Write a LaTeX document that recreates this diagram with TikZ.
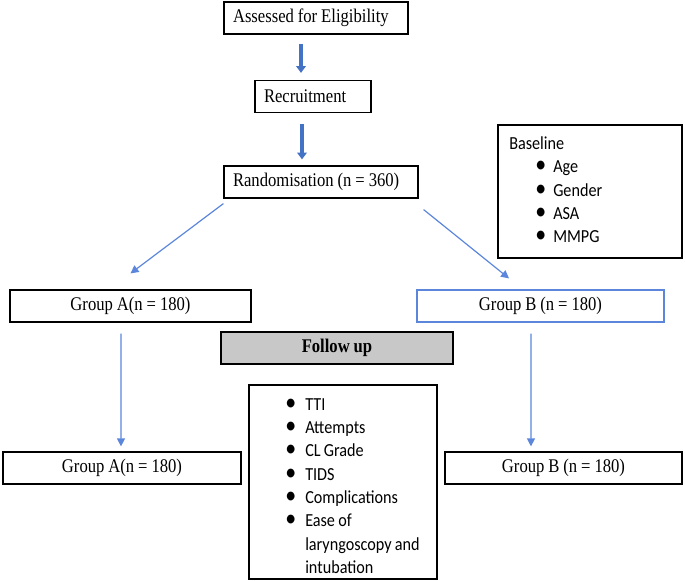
\documentclass[tikz,border=0pt]{standalone}
\usepackage{fontspec}
\setmainfont{Liberation Serif}[FakeStretch=0.86, WordSpace=0.95]
\newfontfamily\calibri{Carlito}[FakeStretch=0.88, WordSpace=0.88]
\usetikzlibrary{arrows.meta}
\definecolor{arrowblue}{HTML}{4472C4}
\definecolor{lineblue}{HTML}{5B86DB}
\definecolor{followgray}{HTML}{C8C8C8}
\newcommand{\listdot}[2][13.5pt]{\makebox[#1][l]{\scalebox{1.35}{\textbullet}}#2}

\begin{document}
\begin{tikzpicture}[x=0.75pt, y=-0.75pt,
    box/.style={draw, line width=0.9pt, minimum height=24pt, inner sep=0pt, font=\fontsize{14.5}{16}\selectfont},
    leftbox/.style={box, inner xsep=6.75pt},
    listtext/.style={anchor=west, align=left, inner sep=0pt, font=\calibri\fontsize{13.8}{17.5}\selectfont},
    bigarrow/.style={-{Triangle[length=5pt,width=7pt]}, arrowblue, line width=2.4pt},
    thinarrow/.style={-{Triangle[length=6pt,width=6pt]}, lineblue, line width=0.9pt}]
    \useasboundingbox (0,0) rectangle (685,581);

    %top boxes
    \node[leftbox] (assess) at (316,18) {\makebox[124.5pt][l]{Assessed for Eligibility}};
    \node[leftbox] (recruit) at (313,96.5) {\makebox[73.5pt][l]{Recruitment}};
    \node[leftbox] (random) at (321,182) {\makebox[132pt][l]{Randomisation (n = 360)}};

    %baseline list
    \node[box, minimum width=138pt, minimum height=99.75pt] (baseline) at (590,191.5) {};
    \node[listtext] (baselinelist) at (509,190) {Baseline\\
        \hspace*{19.5pt}\listdot{Age}\\
        \hspace*{19.5pt}\listdot{Gender}\\
        \hspace*{19.5pt}\listdot{ASA}\\
        \hspace*{19.5pt}\listdot{MMPG}};

    %groups
    \node[box, minimum width=180.75pt] (groupA) at (130.5,306) {Group A(n = 180)};
    \node[box, draw=lineblue, minimum width=185.25pt] (groupB) at (540.5,306) {Group B (n = 180)};
    \node[box, fill=followgray, minimum width=174pt, font=\bfseries\fontsize{14.5}{16}\selectfont] (follow) at (337,348) {Follow up};
    \node[box, minimum width=178.5pt] (groupAend) at (122,468) {Group A(n = 180)};
    \node[box, minimum width=177.75pt] (groupBend) at (563.5,468) {Group B (n = 180)};

    %outcome list
    \node[box, minimum width=141pt, minimum height=145.5pt] (outcome) at (343,482) {};
    \node[listtext] (outcomelist) at (285,486) {\listdot[15pt]{TTI}\\
        \listdot[15pt]{Attempts}\\
        \listdot[15pt]{CL Grade}\\
        \listdot[15pt]{TIDS}\\
        \listdot[15pt]{Complications}\\
        \listdot[15pt]{Ease of}\\
        \hspace*{15pt}laryngoscopy and\\
        \hspace*{15pt}intubation};

    %arrows
    \draw[bigarrow, shorten <=6.75pt, shorten >=5.25pt] ([xshift=-11.25pt]assess.south) -- ([xshift=-9pt]recruit.north);
    \draw[bigarrow, shorten <=8.25pt, shorten >=4.5pt] ([xshift=-8.25pt]recruit.south) -- ([xshift=-14.25pt]random.north);
    \draw[thinarrow] ([yshift=-3.75pt]random.south west) -- ([yshift=12pt]groupA.north);
    \draw[thinarrow] ([xshift=3.75pt,yshift=-8.25pt]random.south east) -- ([xshift=-23.6pt,yshift=8.25pt]groupB.north);
    \draw[thinarrow] ([xshift=-7.1pt,yshift=-8.25pt]groupA.south) -- ([xshift=-0.75pt,yshift=3.75pt]groupAend.north);
    \draw[thinarrow] ([xshift=-7.1pt,yshift=-8.25pt]groupB.south) -- ([xshift=-24.4pt,yshift=3.75pt]groupBend.north);
\end{tikzpicture}
\end{document}
